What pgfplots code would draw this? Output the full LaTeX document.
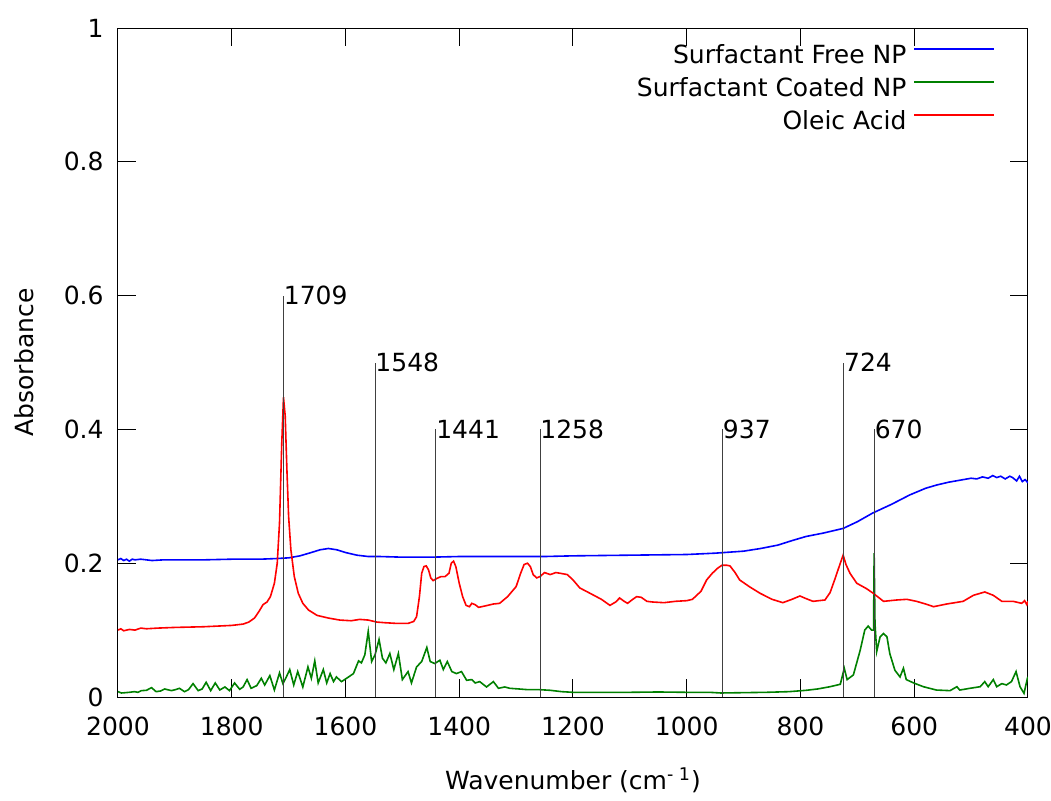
\documentclass[border=0pt]{standalone}
\usepackage{fontspec}
\setmainfont{DejaVu Sans}
\usepackage{pgfplots}
\pgfplotsset{compat=1.18}
\definecolor{cblue}{RGB}{0,0,255}
\definecolor{cgreen}{RGB}{0,128,0}
\definecolor{cred}{RGB}{255,0,0}
\begin{document}
\begin{tikzpicture}[font=\fontsize{12.5}{15}\selectfont]
\begin{axis}[
  at={(0,0)}, anchor=south west,
  scale only axis, width=455pt, height=334.5pt,
  xmin=400, xmax=2000, x dir=reverse,
  ymin=0, ymax=1,
  xtick={400,600,...,2000}, ytick={0,0.2,...,1},
  /pgf/number format/1000 sep={},
  /pgf/number format/assume math mode=true,
  tick align=inside, tick pos=both,
  major tick length=9pt, minor tick num=0,
  axis line style={black, line width=0.5pt},
  every tick/.style={black, line width=0.5pt},
  xticklabel style={anchor=base, yshift=-19pt, inner sep=0pt},
  yticklabel style={anchor=east, xshift=-7pt, inner sep=0pt},
  xlabel={Wavenumber (cm\textsuperscript{- 1})},
  ylabel={Absorbance},
  every axis x label/.style={at={(axis description cs:0.5,-0.124)}, anchor=center},
  every axis y label/.style={at={(axis description cs:-0.1033,0.5)}, anchor=center, rotate=90},
  legend cell align=right, legend plot pos=right,
  legend image code/.code={\draw[#1] (0pt,4.5pt) -- (40pt,4.5pt);},
  legend style={at={(axis description cs:1,1)}, anchor=north east,
    xshift=-16.5pt, yshift=-8.9pt, draw=none, fill=none,
    inner sep=0pt, outer sep=0pt, row sep=4.5pt, column sep=3.5pt,
    nodes={inner sep=0pt, text height=9pt, text depth=3pt}},
]
\addplot[cblue, line width=0.8pt] coordinates {
(2000,0.205)(1995,0.207)(1990,0.204)(1985,0.206)(1980,0.203)(1975,0.206)(1970,0.205)(1960,0.206)(1950,0.205)(1940,0.204)(1920,0.205)(1900,0.205)(1850,0.205)(1800,0.206)(1750,0.206)(1720,0.207)(1700,0.208)(1680,0.211)(1660,0.216)(1645,0.220)(1630,0.222)(1615,0.220)(1600,0.216)(1580,0.212)(1560,0.210)(1540,0.210)(1500,0.209)(1450,0.209)(1400,0.210)(1300,0.210)(1250,0.210)(1200,0.211)(1100,0.212)(1000,0.213)(950,0.215)(900,0.218)(870,0.222)(840,0.227)(814,0.234)(790,0.240)(760,0.245)(725,0.252)(700,0.262)(673,0.275)(640,0.288)(608,0.302)(580,0.312)(560,0.317)(540,0.321)(520,0.324)(500,0.327)(490,0.326)(480,0.329)(470,0.327)(462,0.331)(455,0.328)(448,0.330)(440,0.326)(432,0.330)(427,0.328)(420,0.323)(415,0.330)(410,0.322)(405,0.325)(400,0.320)
};
\addlegendentry{Surfactant Free NP}
\addplot[cgreen, line width=0.8pt] coordinates {
(2000,0.008)(1994,0.006)(1988,0.0064)(1980,0.007)(1971,0.008)(1965,0.007)(1959,0.0095)(1950,0.010)(1941,0.014)(1933,0.008)(1925,0.009)(1918,0.012)(1906,0.0095)(1899,0.011)(1892,0.013)(1883,0.008)(1876,0.011)(1868,0.020)(1859,0.0095)(1852,0.012)(1845,0.022)(1837,0.0095)(1829,0.021)(1821,0.0105)(1812,0.015)(1804,0.0095)(1795,0.021)(1786,0.0115)(1780,0.015)(1773,0.026)(1766,0.013)(1756,0.017)(1748,0.028)(1742,0.018)(1733,0.032)(1725,0.0105)(1716,0.036)(1710,0.020)(1704,0.030)(1698,0.041)(1691,0.018)(1684,0.038)(1675,0.015)(1666,0.045)(1660,0.028)(1654,0.054)(1648,0.021)(1639,0.041)(1633,0.021)(1627,0.035)(1621,0.023)(1616,0.030)(1607,0.023)(1598,0.028)(1586,0.035)(1577,0.054)(1572,0.051)(1566,0.063)(1560,0.098)(1554,0.053)(1548,0.063)(1541,0.086)(1535,0.058)(1529,0.051)(1522,0.065)(1515,0.041)(1507,0.065)(1500,0.026)(1490,0.038)(1484,0.021)(1475,0.045)(1466,0.053)(1457,0.074)(1451,0.053)(1443,0.050)(1434,0.055)(1428,0.041)(1421,0.053)(1413,0.038)(1405,0.035)(1396,0.038)(1387,0.025)(1378,0.026)(1372,0.021)(1364,0.023)(1352,0.015)(1340,0.023)(1331,0.013)(1320,0.015)(1311,0.013)(1295,0.012)(1280,0.011)(1260,0.011)(1240,0.010)(1220,0.008)(1200,0.007)(1150,0.007)(1100,0.007)(1050,0.0075)(1000,0.007)(960,0.007)(940,0.006)(900,0.0065)(860,0.007)(820,0.008)(790,0.010)(770,0.012)(748,0.0154)(730,0.019)(723,0.043)(718,0.026)(707,0.033)(695,0.070)(687,0.100)(681,0.106)(675,0.100)(671.5,0.100)(670.5,0.215)(669,0.110)(666,0.068)(660,0.090)(654,0.095)(648,0.090)(643,0.065)(634,0.040)(625,0.030)(619,0.043)(614,0.026)(601,0.021)(584,0.0154)(561,0.0104)(537,0.0095)(525,0.0154)(520,0.0104)(502,0.013)(484,0.0154)(476,0.023)(470,0.0154)(461,0.026)(455,0.0154)(446,0.020)(438,0.018)(429,0.023)(421,0.038)(414,0.0154)(407,0.0055)(401,0.028)(400,0.030)
};
\addlegendentry{Surfactant Coated NP}
\addplot[cred, line width=0.8pt] coordinates {
(2000,0.100)(1995,0.102)(1990,0.099)(1980,0.101)(1970,0.100)(1960,0.103)(1950,0.102)(1930,0.103)(1900,0.104)(1850,0.105)(1800,0.107)(1780,0.109)(1770,0.112)(1760,0.118)(1752,0.128)(1745,0.138)(1738,0.142)(1732,0.150)(1725,0.170)(1720,0.200)(1716,0.260)(1712,0.380)(1709,0.448)(1706,0.420)(1703,0.340)(1700,0.270)(1696,0.220)(1690,0.180)(1683,0.155)(1675,0.140)(1665,0.130)(1650,0.122)(1630,0.118)(1610,0.115)(1590,0.114)(1575,0.116)(1560,0.115)(1545,0.112)(1530,0.111)(1510,0.110)(1490,0.110)(1480,0.113)(1475,0.120)(1470,0.150)(1466,0.185)(1462,0.195)(1458,0.196)(1454,0.190)(1450,0.178)(1446,0.174)(1440,0.177)(1432,0.180)(1425,0.180)(1418,0.185)(1414,0.200)(1410,0.203)(1406,0.195)(1400,0.170)(1394,0.150)(1388,0.137)(1382,0.135)(1378,0.140)(1372,0.138)(1366,0.134)(1355,0.136)(1340,0.139)(1329,0.140)(1315,0.150)(1300,0.165)(1292,0.185)(1286,0.198)(1280,0.200)(1275,0.195)(1270,0.183)(1264,0.178)(1258,0.180)(1250,0.186)(1240,0.183)(1230,0.186)(1223,0.185)(1210,0.183)(1200,0.175)(1188,0.163)(1170,0.155)(1150,0.146)(1135,0.137)(1125,0.142)(1118,0.148)(1110,0.143)(1104,0.140)(1095,0.146)(1088,0.150)(1080,0.149)(1070,0.143)(1060,0.142)(1040,0.141)(1020,0.143)(1000,0.144)(990,0.146)(975,0.158)(965,0.175)(955,0.185)(945,0.193)(938,0.197)(930,0.197)(924,0.196)(915,0.186)(907,0.175)(890,0.165)(871,0.155)(850,0.146)(831,0.141)(815,0.146)(801,0.151)(790,0.147)(778,0.143)(757,0.145)(748,0.156)(740,0.175)(736,0.185)(730,0.200)(725,0.212)(720,0.198)(713,0.185)(701,0.170)(684,0.162)(672,0.155)(654,0.143)(631,0.145)(613,0.146)(596,0.143)(580,0.139)(566,0.135)(543,0.139)(514,0.143)(496,0.152)(476,0.157)(461,0.152)(446,0.143)(426,0.143)(411,0.140)(406,0.144)(402,0.138)(400,0.143)
};
\addlegendentry{Oleic Acid}
% annotation lines
\addplot[black!75, line width=0.5pt, forget plot] coordinates {(1709,0) (1709,0.6)};
\addplot[black!75, line width=0.5pt, forget plot] coordinates {(1548,0) (1548,0.5)};
\addplot[black!75, line width=0.5pt, forget plot] coordinates {(1441,0) (1441,0.4)};
\addplot[black!75, line width=0.5pt, forget plot] coordinates {(1258,0) (1258,0.4)};
\addplot[black!75, line width=0.5pt, forget plot] coordinates {(937,0) (937,0.4)};
\addplot[black!75, line width=0.5pt, forget plot] coordinates {(724,0) (724,0.5)};
\addplot[black!75, line width=0.5pt, forget plot] coordinates {(670,0) (670,0.4)};
\node[anchor=west, inner sep=0pt] at (axis cs:1709,0.6) {1709};
\node[anchor=west, inner sep=0pt] at (axis cs:1548,0.5) {1548};
\node[anchor=west, inner sep=0pt] at (axis cs:1441,0.4) {1441};
\node[anchor=west, inner sep=0pt] at (axis cs:1258,0.4) {1258};
\node[anchor=west, inner sep=0pt] at (axis cs:937,0.4) {937};
\node[anchor=west, inner sep=0pt] at (axis cs:724,0.5) {724};
\node[anchor=west, inner sep=0pt] at (axis cs:670,0.4) {670};
\end{axis}
\pgfresetboundingbox
\useasboundingbox (-59pt,-51.5pt) rectangle (466.5pt,348.5pt);
\end{tikzpicture}
\end{document}
